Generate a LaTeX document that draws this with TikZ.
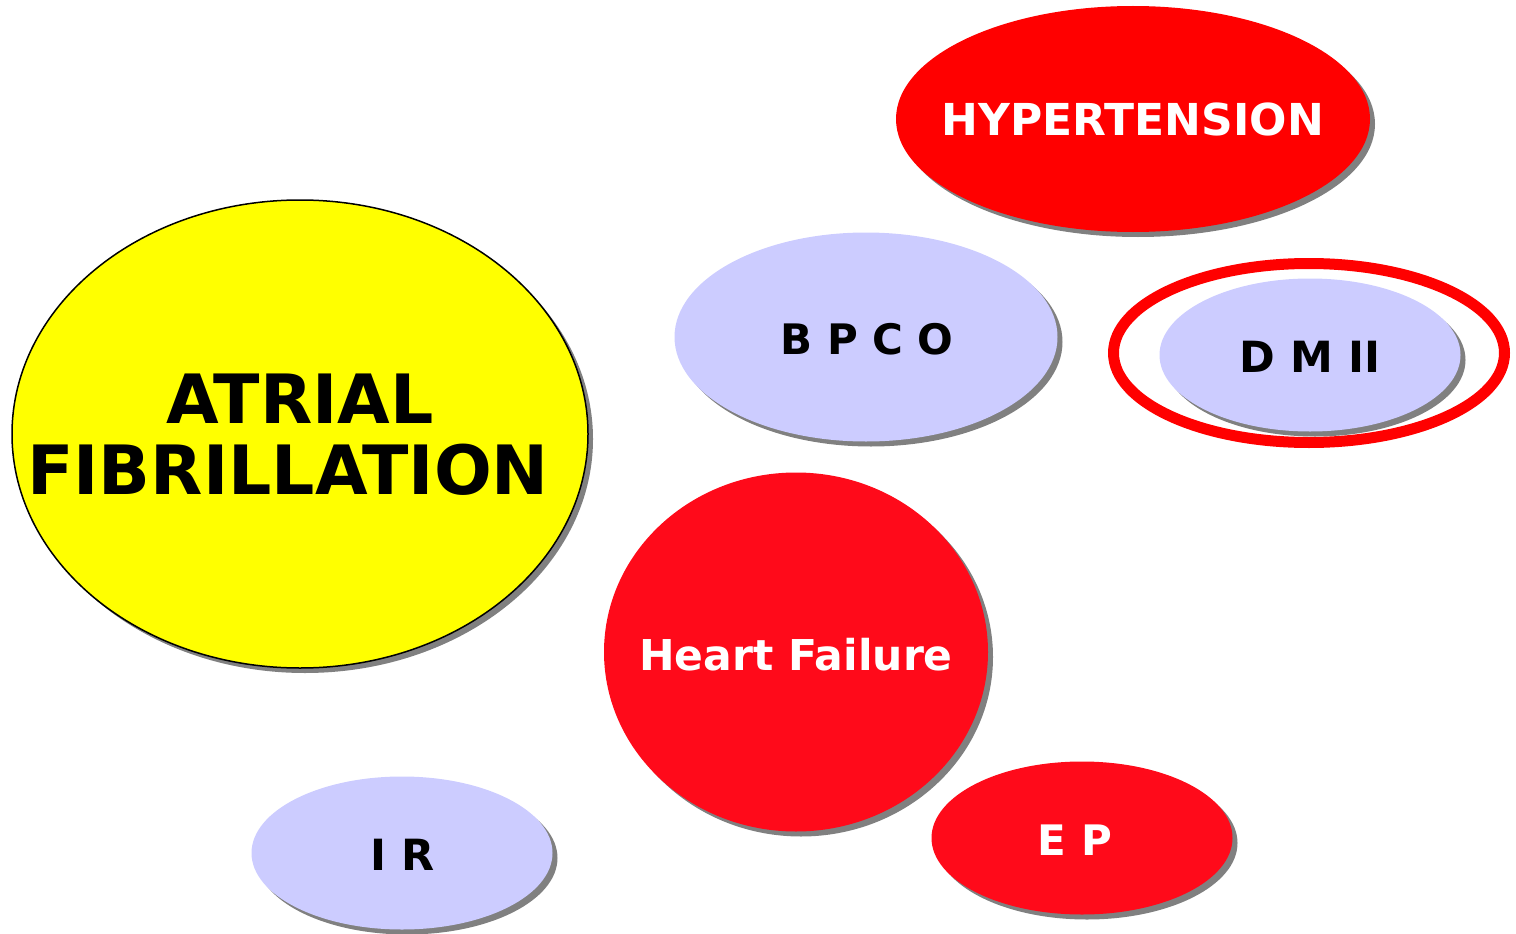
\documentclass[tikz,border=0pt]{standalone}
\usepackage{fontspec}
\setmainfont{DejaVu Sans}
\usetikzlibrary{shapes.geometric}
\usetikzlibrary{shadows}

\definecolor{afyellow}{HTML}{FFFF00}
\definecolor{hypred}{HTML}{FF0000}
\definecolor{hfred}{HTML}{FF0A1A}
\definecolor{lilac}{HTML}{CCCCFF}
\definecolor{shade}{HTML}{808080}

\begin{document}
\begin{tikzpicture}[x=1pt, y=-1pt
  , blob/.style={ ellipse
                , inner sep = 0pt
                , outer sep = 0pt
                , drop shadow={shadow xshift=5pt, shadow yshift=-5pt, fill=shade, opacity=1}
                }
  , blobtext/.style={ anchor = base
                    , inner sep = 0pt
                    , font = \bfseries\fontsize{#1}{#1}\selectfont
                    }
  ]

  \useasboundingbox (0,0) rectangle (1516,934);

  \node (af) [blob, fill=afyellow, draw=black, line width=1.5pt
    , minimum width=576pt, minimum height=468pt] at (300,434) {};
  \node (hyp) [blob, fill=hypred
    , minimum width=474pt, minimum height=226pt] at (1133,119) {};
  \node (bpco) [blob, fill=lilac
    , minimum width=383pt, minimum height=209pt] at (866,337) {};
  \node (dm) [blob, fill=lilac
    , minimum width=301pt, minimum height=153pt] at (1310,355) {};
  \node (ring) [ellipse, draw=hypred, line width=11pt
    , minimum width=391pt, minimum height=179pt] at (1309,353) {};
  \node (hf) [blob, fill=hfred
    , minimum width=384pt, minimum height=359pt] at (796,652) {};
  \node (ep) [blob, fill=hfred
    , minimum width=301pt, minimum height=153pt] at (1082,838) {};
  \node (ir) [blob, fill=lilac
    , minimum width=301pt, minimum height=153pt] at (402,853) {};

  \node (af-top) [blobtext=68] at (300,423) {ATRIAL};
  \node (af-bottom) [blobtext=68] at (288,494) {FIBRILLATION};
  \node (hyp-text) [blobtext=44, text=white] at (1133,135) {HYPERTENSION};
  \node (bpco-text) [blobtext=42] at (867,354) {B P C O};
  \node (dm-text) [blobtext=43] at (1310,372) {D M II};
  \node (hf-text) [blobtext=42.5, text=white] at (796,670) {Heart Failure};
  \node (ep-text) [blobtext=42, text=white] at (1075,855) {E P};
  \node (ir-text) [blobtext=43] at (403,870) {I R};

\end{tikzpicture}
\end{document}
